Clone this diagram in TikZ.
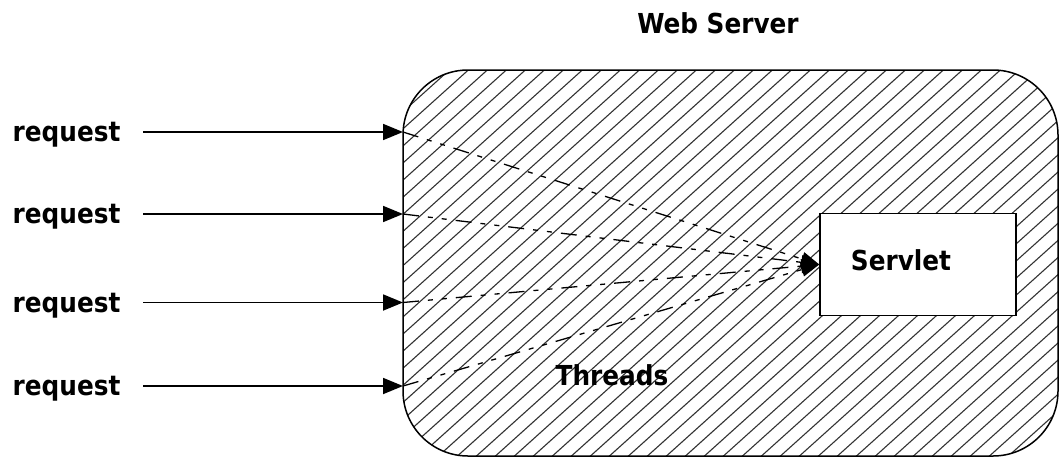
\documentclass[tikz,border=0pt]{standalone}
\usepackage{fontspec}
\usetikzlibrary{arrows.meta}
\newfontfamily\lblfont{DejaVu Sans Condensed}
\tikzset{
  lbl/.style={font=\lblfont\bfseries\fontsize{27.5}{30}\selectfont, inner sep=0pt},
  req/.style={line width=1.8pt, -{Triangle[length=20pt,width=16pt]}},
  thread/.style={line width=1.3pt, dash pattern=on 16pt off 9pt on 5pt off 9pt on 5pt off 9pt,
                 -{Triangle[length=18pt,width=14pt]}},
  hatch/.style={line width=1.1pt, draw=black!80},
  box/.style={draw, line width=1.5pt}
}
\begin{document}
\begin{tikzpicture}[x=1pt,y=-1pt]
  \useasboundingbox (0,0) rectangle (1060,458);
  \fill[white] (0,0) rectangle (1060,458);

  % web server area: hatched rounded rectangle
  \begin{scope}
    \clip[rounded corners=65pt] (403,70) rectangle (1058,456);
    \foreach \k in {0,...,62} {
      \draw[hatch] (-60+19*\k,460) -- ++(700,-630);
    }
  \end{scope}
  \draw[box, rounded corners=65pt] (403,70) rectangle (1058,456);
  \node[lbl, anchor=base] (web) at (718,33) {Web Server};

  % servlet
  \node[box, fill=white, minimum width=196pt, minimum height=102pt, inner sep=0pt] (servlet) at (918,264.5) {};
  \node[lbl, anchor=base] (servlettxt) at (901,270.7) {Servlet};
  \node[lbl, anchor=base] (threads) at (612,385) {Threads};

  % incoming requests
  \foreach \i/\y in {1/132, 2/214, 3/302.5, 4/386} {
    \node[lbl, anchor=base west] (rq\i) at (12.5,\y+9.5) {request};
    \coordinate (s\i) at (143,\y);
    \coordinate (e\i) at (403,\y);
    \draw[req] (s\i) -- (e\i);
    \draw[thread] (e\i) -- (servlet.west);
  }
\end{tikzpicture}
\end{document}
